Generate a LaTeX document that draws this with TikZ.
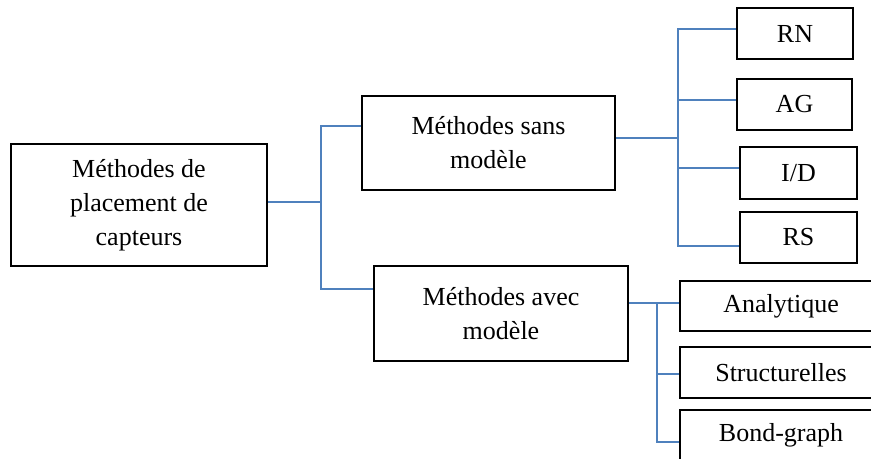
\documentclass[tikz,border=0pt]{standalone}
\usepackage{fontspec}
\setmainfont{Liberation Serif}
\definecolor{linkblue}{RGB}{79,129,189}

\begin{document}
\begin{tikzpicture}[x=0.5pt,y=-0.5pt,
    box/.style={draw,line width=1pt,align=center,inner sep=0pt,font=\fontsize{13}{17}\selectfont},
    link/.style={draw=linkblue,line width=1pt}]

    \useasboundingbox (0,0) rectangle (871,459);
    \clip (0,0) rectangle (871,459);

    \node[box,minimum width=128pt,minimum height=61pt] (root) at (139,205) {Méthodes de\\placement de\\capteurs};
    \node[box,minimum width=126.5pt,minimum height=47pt] (sans) at (488.5,143) {Méthodes sans\\modèle};
    \node[box,minimum width=127pt,minimum height=47.5pt] (avec) at (501,313.5) {Méthodes avec\\modèle};

    \node[box,minimum width=58pt,minimum height=25.5pt] (rn) at (795,33.5) {RN};
    \node[box,minimum width=57.5pt,minimum height=25.5pt] (ag) at (794.5,104.5) {AG};
    \node[box,minimum width=58.5pt,minimum height=26pt] (id) at (798.5,173) {I/D};
    \node[box,minimum width=58.5pt,minimum height=25.5pt] (rs) at (798.5,237.5) {RS};

    \node[box,minimum width=101pt,minimum height=25pt] (ana) at (781,306) {Analytique};
    \node[box,minimum width=101pt,minimum height=25.5pt] (struct) at (781,372.5) {Structurelles};
    \node[box,minimum width=101pt,minimum height=25.5pt] (bond) at (781,435.5) {Bond-graph};

    \coordinate (j0) at (321,202);
    \coordinate (j1) at (678,138);
    \coordinate (j2) at (657,303);

    \draw[link] ([yshift=1.5pt]root.east) -- (j0);
    \draw[link] ([yshift=8.5pt]sans.west) -| (j0) |- ([yshift=12.25pt]avec.west);

    \draw[link] ([yshift=2.5pt]sans.east) -- (j1);
    \draw[link] ([yshift=2.25pt]rn.west) -| (j1) |- ([yshift=-4.25pt]rs.west);
    \draw[link] ([yshift=2.25pt]ag.west) -| (j1);
    \draw[link] ([yshift=2.5pt]id.west) -| (j1);

    \draw[link] ([yshift=5.25pt]avec.east) -- ([yshift=1.5pt]ana.west);
    \draw[link] (j2) |- ([yshift=-3.25pt]bond.west);
    \draw[link] ([yshift=-0.75pt]struct.west) -| (j2);
\end{tikzpicture}
\end{document}
